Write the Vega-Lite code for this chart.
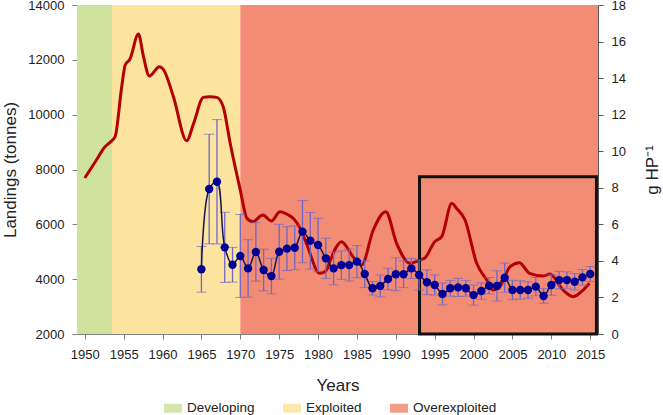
{
  "$schema": "https://vega.github.io/schema/vega-lite/v6.json",
  "width": 521,
  "height": 329,
  "autosize": {"type": "none"},
  "padding": {"left": 77, "top": 5, "right": 65, "bottom": 81},
  "config": {"view": {"stroke": null}, "font": "Liberation Sans", "axis": {"grid": false, "labelOverlap": false, "labelBound": false}},
  "datasets": {
    "phases": [
      {"phase": "Developing", "start": 1949, "end": 1953.5},
      {"phase": "Exploited", "start": 1953.5, "end": 1970},
      {"phase": "Overexploited", "start": 1970, "end": 2016}
    ],
    "box": [{"x1": 1993.05, "x2": 2015.8, "y1": 0, "y2": 8.6}],
    "landings": [
      {"year": 1950.0, "landings": 7690}, {"year": 1951.5, "landings": 8345}, {"year": 1952.6, "landings": 8830},
      {"year": 1953.2, "landings": 8980}, {"year": 1953.9, "landings": 9195}, {"year": 1954.75, "landings": 11020},
      {"year": 1955.2, "landings": 11810}, {"year": 1955.8, "landings": 12020}, {"year": 1956.9, "landings": 12940},
      {"year": 1957.55, "landings": 12115}, {"year": 1958.3, "landings": 11410}, {"year": 1959.6, "landings": 11750},
      {"year": 1960.1, "landings": 11650}, {"year": 1961.4, "landings": 10655}, {"year": 1963.1, "landings": 9050},
      {"year": 1964.0, "landings": 9684}, {"year": 1965.25, "landings": 10630}, {"year": 1966.1, "landings": 10650},
      {"year": 1966.97, "landings": 10630}, {"year": 1967.8, "landings": 10290}, {"year": 1968.7, "landings": 8955},
      {"year": 1970.0, "landings": 7250}, {"year": 1970.85, "landings": 6220}, {"year": 1971.6, "landings": 6096},
      {"year": 1972.9, "landings": 6340}, {"year": 1974.0, "landings": 6121}, {"year": 1975.1, "landings": 6460},
      {"year": 1976.2, "landings": 6340}, {"year": 1976.8, "landings": 6220}, {"year": 1977.6, "landings": 5900},
      {"year": 1978.5, "landings": 5307}, {"year": 1980.2, "landings": 4214}, {"year": 1981.0, "landings": 4300},
      {"year": 1981.6, "landings": 4700}, {"year": 1982.3, "landings": 5150}, {"year": 1983.0, "landings": 5366},
      {"year": 1984.5, "landings": 4820}, {"year": 1985.6, "landings": 4516}, {"year": 1987.1, "landings": 5793},
      {"year": 1988.7, "landings": 6460}, {"year": 1990.1, "landings": 5307}, {"year": 1991.8, "landings": 4578},
      {"year": 1993.1, "landings": 4700}, {"year": 1993.7, "landings": 4760}, {"year": 1995.0, "landings": 5366},
      {"year": 1995.9, "landings": 5550}, {"year": 1997.2, "landings": 6766}, {"year": 1997.8, "landings": 6584},
      {"year": 1998.9, "landings": 6157}, {"year": 2000.4, "landings": 4578}, {"year": 2001.7, "landings": 3970},
      {"year": 2002.5, "landings": 3605}, {"year": 2003.2, "landings": 3667}, {"year": 2004.7, "landings": 4455},
      {"year": 2005.9, "landings": 4600}, {"year": 2007.2, "landings": 4214}, {"year": 2009.0, "landings": 4115},
      {"year": 2009.8, "landings": 4188}, {"year": 2011.5, "landings": 3605}, {"year": 2012.8, "landings": 3360},
      {"year": 2014.1, "landings": 3605}, {"year": 2014.9, "landings": 3849}
    ],
    "cpue": [
      {"year": 1965, "cpue": 3.54, "lo": 2.29, "hi": 4.79},
      {"year": 1966, "cpue": 7.93, "lo": 4.93, "hi": 10.93},
      {"year": 1967, "cpue": 8.33, "lo": 4.93, "hi": 11.73},
      {"year": 1968, "cpue": 4.74, "lo": 2.82, "hi": 6.66},
      {"year": 1969, "cpue": 3.79, "lo": 2.84, "hi": 4.74},
      {"year": 1970, "cpue": 4.27, "lo": 2.00, "hi": 6.54},
      {"year": 1971, "cpue": 3.59, "lo": 2.02, "hi": 5.16},
      {"year": 1972, "cpue": 4.49, "lo": 2.89, "hi": 6.09},
      {"year": 1973, "cpue": 3.50, "lo": 2.36, "hi": 4.64},
      {"year": 1974, "cpue": 3.17, "lo": 2.20, "hi": 4.14},
      {"year": 1975, "cpue": 4.50, "lo": 3.00, "hi": 6.00},
      {"year": 1976, "cpue": 4.67, "lo": 3.47, "hi": 5.87},
      {"year": 1977, "cpue": 4.72, "lo": 3.52, "hi": 5.92},
      {"year": 1978, "cpue": 5.60, "lo": 3.90, "hi": 7.30},
      {"year": 1979, "cpue": 5.10, "lo": 3.55, "hi": 6.65},
      {"year": 1980, "cpue": 4.87, "lo": 3.41, "hi": 6.33},
      {"year": 1981, "cpue": 4.14, "lo": 3.04, "hi": 5.24},
      {"year": 1982, "cpue": 3.59, "lo": 2.69, "hi": 4.49},
      {"year": 1983, "cpue": 3.77, "lo": 2.99, "hi": 4.55},
      {"year": 1984, "cpue": 3.77, "lo": 2.90, "hi": 4.64},
      {"year": 1985, "cpue": 3.96, "lo": 3.08, "hi": 4.84},
      {"year": 1986, "cpue": 3.28, "lo": 2.55, "hi": 4.01},
      {"year": 1987, "cpue": 2.50, "lo": 2.13, "hi": 2.87},
      {"year": 1988, "cpue": 2.63, "lo": 2.03, "hi": 3.23},
      {"year": 1989, "cpue": 3.01, "lo": 2.42, "hi": 3.60},
      {"year": 1990, "cpue": 3.27, "lo": 2.37, "hi": 4.17},
      {"year": 1991, "cpue": 3.27, "lo": 2.54, "hi": 4.00},
      {"year": 1992, "cpue": 3.59, "lo": 3.04, "hi": 4.14},
      {"year": 1993, "cpue": 3.23, "lo": 2.41, "hi": 4.05},
      {"year": 1994, "cpue": 2.83, "lo": 2.15, "hi": 3.51},
      {"year": 1995, "cpue": 2.68, "lo": 2.13, "hi": 3.23},
      {"year": 1996, "cpue": 2.19, "lo": 1.59, "hi": 2.79},
      {"year": 1997, "cpue": 2.50, "lo": 2.07, "hi": 2.93},
      {"year": 1998, "cpue": 2.55, "lo": 2.05, "hi": 3.05},
      {"year": 1999, "cpue": 2.50, "lo": 2.07, "hi": 2.93},
      {"year": 2000, "cpue": 2.13, "lo": 1.58, "hi": 2.68},
      {"year": 2001, "cpue": 2.35, "lo": 1.90, "hi": 2.80},
      {"year": 2002, "cpue": 2.64, "lo": 2.19, "hi": 3.09},
      {"year": 2003, "cpue": 2.63, "lo": 1.80, "hi": 3.46},
      {"year": 2004, "cpue": 3.08, "lo": 2.28, "hi": 3.88},
      {"year": 2005, "cpue": 2.41, "lo": 1.88, "hi": 2.94},
      {"year": 2006, "cpue": 2.41, "lo": 1.91, "hi": 2.91},
      {"year": 2007, "cpue": 2.41, "lo": 1.96, "hi": 2.86},
      {"year": 2008, "cpue": 2.59, "lo": 2.09, "hi": 3.09},
      {"year": 2009, "cpue": 2.08, "lo": 1.68, "hi": 2.48},
      {"year": 2010, "cpue": 2.68, "lo": 2.12, "hi": 3.24},
      {"year": 2011, "cpue": 2.95, "lo": 2.47, "hi": 3.43},
      {"year": 2012, "cpue": 2.95, "lo": 2.50, "hi": 3.40},
      {"year": 2013, "cpue": 2.86, "lo": 2.41, "hi": 3.31},
      {"year": 2014, "cpue": 3.10, "lo": 2.67, "hi": 3.53},
      {"year": 2015, "cpue": 3.28, "lo": 2.87, "hi": 3.69}
    ]
  },
  "layer": [
    {
      "layer": [
        {
          "data": {"name": "phases"},
          "mark": {"type": "rect"},
          "encoding": {
            "x": {
              "field": "start", "type": "quantitative", "title": "Years",
              "scale": {"domain": [1949, 2016], "nice": false, "zero": false},
              "axis": {
                "values": [1950, 1955, 1960, 1965, 1970, 1975, 1980, 1985, 1990, 1995, 2000, 2005, 2010, 2015],
                "format": "d", "labelFontSize": 13, "labelColor": "#222", "labelPadding": 9,
                "tickSize": 5, "tickColor": "#808080", "domainColor": "#808080",
                "titleFontSize": 17, "titleFontWeight": "normal", "titleColor": "#222",
                "titleX": 260.5, "titleY": 56, "titleBaseline": "alphabetic", "titleAlign": "center"
              }
            },
            "x2": {"field": "end"},
            "color": {
              "field": "phase", "type": "nominal",
              "scale": {"domain": ["Developing", "Exploited", "Overexploited"], "range": ["#cfe29b", "#fde49e", "#f28c74"]},
              "legend": {
                "orient": "none", "legendX": 87, "legendY": 394, "direction": "horizontal", "title": null,
                "symbolType": "M-1,-0.5H1V0.5H-1Z", "symbolSize": 324, "symbolStrokeWidth": 0, "symbolOpacity": 0.85,
                "labelFontSize": 13.5, "labelColor": "#222", "labelOffset": 5, "columnPadding": 28
              }
            }
          }
        },
        {
          "data": {"name": "landings"},
          "mark": {"type": "line", "color": "#b40000", "strokeWidth": 3, "interpolate": "monotone"},
          "encoding": {
            "x": {"field": "year", "type": "quantitative", "title": "Years"},
            "y": {
              "field": "landings", "type": "quantitative", "title": "Landings (tonnes)",
              "scale": {"domain": [2000, 14000], "nice": false, "zero": false},
              "axis": {
                "orient": "left", "values": [2000, 4000, 6000, 8000, 10000, 12000, 14000], "format": "d",
                "labelFontSize": 13, "labelColor": "#222", "labelPadding": 8,
                "tickSize": 5, "tickColor": "#808080", "domainColor": "#808080",
                "titleFontSize": 17, "titleFontWeight": "normal", "titleColor": "#222",
                "titleAngle": 270, "titleX": -67, "titleY": 164.5, "titleAlign": "center", "titleBaseline": "middle"
              }
            }
          }
        }
      ]
    },
    {
      "layer": [
        {
          "data": {"name": "box"},
          "mark": {"type": "rect", "filled": false, "color": "#111", "strokeWidth": 3},
          "encoding": {
            "x": {"field": "x1", "type": "quantitative", "title": "Years"},
            "x2": {"field": "x2"},
            "y": {
              "field": "y1", "type": "quantitative", "title": "g HP⁻¹",
              "scale": {"domain": [0, 18], "nice": false, "zero": false},
              "axis": {
                "orient": "right", "values": [0, 2, 4, 6, 8, 10, 12, 14, 16, 18], "labelOverlap": false,
                "labelFontSize": 13, "labelColor": "#222", "labelPadding": 8,
                "tickSize": 5, "tickColor": "#555", "domainColor": "#555",
                "titleFontSize": 17, "titleFontWeight": "normal", "titleColor": "#222",
                "titleAngle": 270, "titleX": 54, "titleY": 164.5, "titleAlign": "center", "titleBaseline": "middle"
              }
            },
            "y2": {"field": "y2"}
          }
        },
        {
          "data": {"name": "cpue"},
          "mark": {"type": "errorbar", "ticks": {"size": 10, "color": "#6f66c9", "strokeWidth": 1.3}, "rule": {"color": "#6f66c9", "strokeWidth": 1.3}},
          "encoding": {
            "x": {"field": "year", "type": "quantitative", "title": "Years"},
            "y": {
              "field": "lo", "type": "quantitative", "title": "g HP⁻¹",
              "scale": {"domain": [0, 18], "nice": false, "zero": false},
              "axis": {
                "orient": "right", "values": [0, 2, 4, 6, 8, 10, 12, 14, 16, 18], "labelOverlap": false,
                "labelFontSize": 13, "labelColor": "#222", "labelPadding": 8,
                "tickSize": 5, "tickColor": "#555", "domainColor": "#555",
                "titleFontSize": 17, "titleFontWeight": "normal", "titleColor": "#222",
                "titleAngle": 270, "titleX": 54, "titleY": 164.5, "titleAlign": "center", "titleBaseline": "middle"
              }
            },
            "y2": {"field": "hi"}
          }
        },
        {
          "data": {"name": "cpue"},
          "mark": {"type": "line", "color": "#14144a", "strokeWidth": 1.5, "interpolate": "catmull-rom"},
          "encoding": {
            "x": {"field": "year", "type": "quantitative", "title": "Years"},
            "y": {
              "field": "cpue", "type": "quantitative", "title": "g HP⁻¹",
              "scale": {"domain": [0, 18], "nice": false, "zero": false},
              "axis": {
                "orient": "right", "values": [0, 2, 4, 6, 8, 10, 12, 14, 16, 18], "labelOverlap": false,
                "labelFontSize": 13, "labelColor": "#222", "labelPadding": 8,
                "tickSize": 5, "tickColor": "#555", "domainColor": "#555",
                "titleFontSize": 17, "titleFontWeight": "normal", "titleColor": "#222",
                "titleAngle": 270, "titleX": 54, "titleY": 164.5, "titleAlign": "center", "titleBaseline": "middle"
              }
            }
          }
        },
        {
          "data": {"name": "cpue"},
          "mark": {"type": "circle", "color": "#000096", "opacity": 1, "size": 70},
          "encoding": {
            "x": {"field": "year", "type": "quantitative", "title": "Years"},
            "y": {
              "field": "cpue", "type": "quantitative", "title": "g HP⁻¹",
              "scale": {"domain": [0, 18], "nice": false, "zero": false},
              "axis": {
                "orient": "right", "values": [0, 2, 4, 6, 8, 10, 12, 14, 16, 18], "labelOverlap": false,
                "labelFontSize": 13, "labelColor": "#222", "labelPadding": 8,
                "tickSize": 5, "tickColor": "#555", "domainColor": "#555",
                "titleFontSize": 17, "titleFontWeight": "normal", "titleColor": "#222",
                "titleAngle": 270, "titleX": 54, "titleY": 164.5, "titleAlign": "center", "titleBaseline": "middle"
              }
            }
          }
        }
      ]
    }
  ],
  "resolve": {"scale": {"y": "independent"}}
}
